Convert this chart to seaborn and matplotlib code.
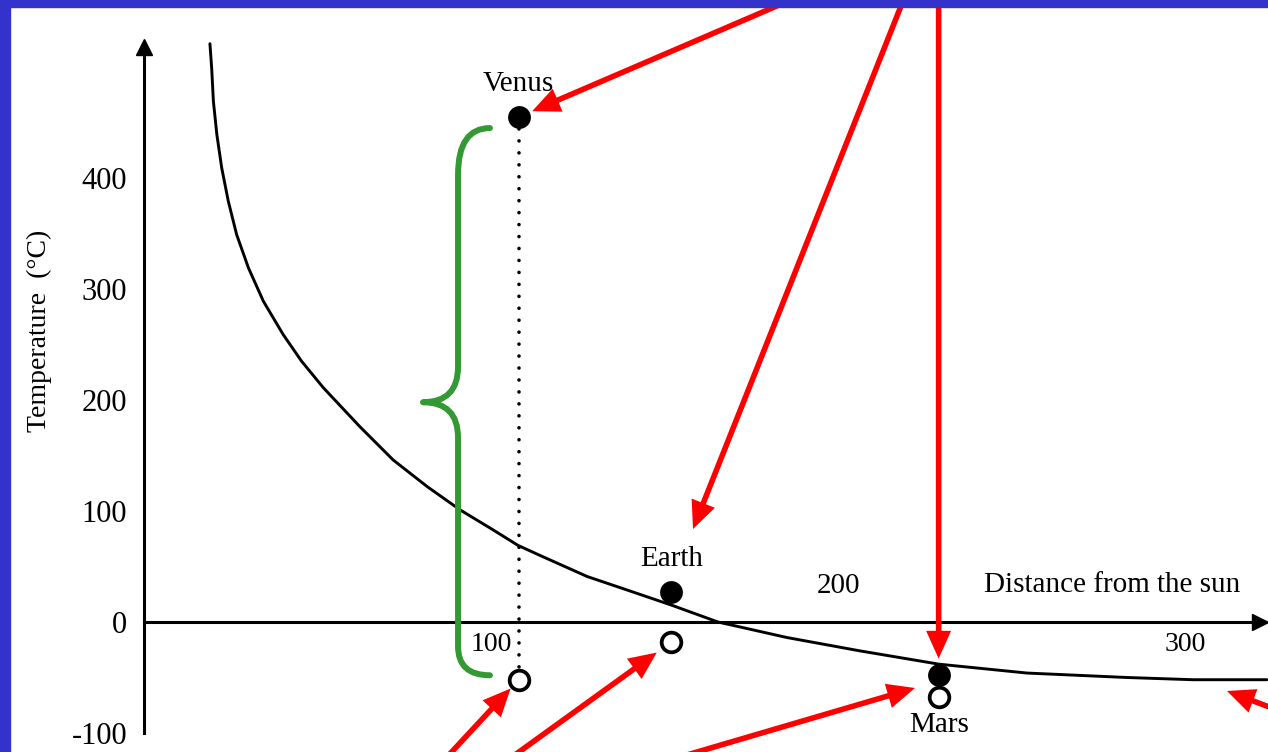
import numpy as np
import pandas as pd
import seaborn as sns
import matplotlib.pyplot as plt
from matplotlib.path import Path
from matplotlib.patches import PathPatch, Rectangle

# values
planets = ["Venus", "Earth", "Mars"]
distance = [108, 152, 229]
temp_actual = [455, 27, -48]       # filled dots
temp_no_atmos = [-52, -18, -68]    # open dots

curve_dist = [19.0, 19.5, 20.0, 21.0, 22.4, 24.3, 26.7, 30.1, 34.4, 40.1,
              45.4, 51.7, 62.2, 71.8, 81.6, 91.1, 100.6, 107.8, 114.1,
              127.7, 140.0, 152.2, 165.4, 185.3, 206.3, 229.1, 254.5,
              283.3, 302.3, 323.6]
curve_temp = [521, 499, 469, 439, 409, 379, 349, 319, 289, 259,
              235, 211, 176, 146, 122, 101, 83, 69, 60,
              41, 28, 15, 0, -14, -26, -38, -46,
              -50, -52, -52]

x_ticks = [100, 200, 300]
y_ticks = [-100, 0, 100, 200, 300, 400]
y_tick_labels = ["-100", "0", "100", "200", "300", "400"]

df = pd.DataFrame({"planet": planets, "distance": distance,
                   "actual": temp_actual, "no_atmos": temp_no_atmos})
curve = pd.DataFrame({"distance": curve_dist, "temp": curve_temp})

sns.set_style("white")
plt.rcParams['font.family'] = ['Liberation Serif', 'DejaVu Serif']
plt.rcParams['text.color'] = 'black'

W, H = 1268, 752
fig = plt.figure(figsize=(W / 100, H / 100), dpi=100)
ax = fig.add_axes([144 / W, 0, (W - 144) / W, 1])
ax.set_xlim(0, (W - 144) / 3.47)
ax.set_ylim(-130 / 1.11, 622 / 1.11)

# axes drawn like the book: arrowed lines crossing at 0
for s in ["top", "right"]:
    ax.spines[s].set_visible(False)
ax.spines["left"].set_bounds(-100, 520)
ax.spines["bottom"].set_position(("data", 0))
ax.spines["bottom"].set_bounds(0, 320)
for s in ["left", "bottom"]:
    ax.spines[s].set_linewidth(2.2)
    ax.spines[s].set_color("black")
ax.plot([0], [518], marker="^", ms=11, color="black", clip_on=False)
ax.plot([321.6], [0], marker=">", ms=11, color="black", clip_on=False)

ax.set_xticks(x_ticks, [str(t) if t != 200 else "" for t in x_ticks])
ax.set_yticks(y_ticks, y_tick_labels)
ax.tick_params(direction="in", length=9, width=2.2, colors="black")
ax.tick_params(axis="x", pad=7, labelsize=20)
ax.tick_params(axis="y", pad=12, labelsize=22)
ax.annotate("200", xy=(200, 0), xytext=(0, 26), textcoords="offset points",
            ha="center", va="center", fontsize=21)
ax.text(316, 33, "Distance from the sun", ha="right", va="center", fontsize=21)
fig.text(39 / W, 1 - 331 / H, "Temperature  (°C)", rotation=90,
         ha="center", va="center", fontsize=20)

# model curve
sns.lineplot(data=curve, x="distance", y="temp", sort=False, estimator=None,
             color="black", lw=2.1, ax=ax)

# Venus dotted drop line
v = df.iloc[0]
ax.plot([v.distance, v.distance], [v.actual, v.no_atmos], color="black", lw=2.6,
        linestyle=(0, (0.01, 3.3)), dash_capstyle="round", zorder=2)

sns.scatterplot(data=df, x="distance", y="actual", color="black", s=270,
                edgecolor="black", linewidth=0, zorder=4, ax=ax)
sns.scatterplot(data=df, x="distance", y="no_atmos", color="white", s=200,
                edgecolor="black", linewidth=2.7, zorder=4, ax=ax)
ax.set_xlabel("")
ax.set_ylabel("")

# planet names: above the filled dot, Mars below its open dot
for _, r in df.iterrows():
    if r.planet == "Mars":
        base, dy = r.no_atmos, -20
    else:
        base, dy = r.actual, 24
    ax.annotate(r.planet, xy=(r.distance, base), xytext=(0, dy),
                textcoords="offset points", ha="center", va="center",
                fontsize=21)

# green brace beside Venus
xe, xs, xt = 99.7, 90.5, 80.4
top, tip, bot = 445, 198, -48
brace = Path([(xe, top), (xs, top), (xs, top - 42),
              (xs, tip + 32), (xs, tip), (xt, tip),
              (xs, tip), (xs, tip - 32),
              (xs, bot + 26), (xs, bot), (xe, bot)],
             [Path.MOVETO, Path.CURVE3, Path.CURVE3,
              Path.LINETO, Path.CURVE3, Path.CURVE3,
              Path.CURVE3, Path.CURVE3,
              Path.LINETO, Path.CURVE3, Path.CURVE3])
ax.add_patch(PathPatch(brace, facecolor="none", edgecolor="#339933", lw=4.3,
                       capstyle="round", joinstyle="round", zorder=3))

# red arrows overlaid on the slide (solid filled shapes)
red = dict(arrowstyle="simple,head_length=2.0,head_width=1.8,tail_width=0.4",
           fc="#FF0000", ec="none", lw=0, mutation_scale=10, shrinkA=0)
m = df.set_index("planet")
ax.annotate("", xy=(m.loc["Venus", "distance"], m.loc["Venus", "actual"]),
            xytext=(800, 756), textcoords="figure pixels",
            arrowprops=dict(red, shrinkB=10.5), annotation_clip=False)
ax.annotate("", xy=(693, 223), xycoords="figure pixels",
            xytext=(905, 756), textcoords="figure pixels",
            arrowprops=dict(red, shrinkB=0), annotation_clip=False)
ax.annotate("", xy=(m.loc["Mars", "distance"], m.loc["Mars", "actual"]),
            xytext=(m.loc["Mars", "distance"], 560), textcoords="data",
            arrowprops=dict(red, shrinkB=12), annotation_clip=False)
ax.annotate("", xy=(m.loc["Venus", "distance"], m.loc["Venus", "no_atmos"]),
            xytext=(447, -5), textcoords="figure pixels",
            arrowprops=dict(red, shrinkB=8.6), annotation_clip=False)
ax.annotate("", xy=(m.loc["Earth", "distance"], m.loc["Earth", "no_atmos"]),
            xytext=(512, -5), textcoords="figure pixels",
            arrowprops=dict(red, shrinkB=13), annotation_clip=False)
ax.annotate("", xy=(915, 64), xycoords="figure pixels",
            xytext=(680, -5), textcoords="figure pixels",
            arrowprops=dict(red, shrinkB=0), annotation_clip=False)
ax.annotate("", xy=(1227, 61), xycoords="figure pixels",
            xytext=(1285, 39), textcoords="figure pixels",
            arrowprops=dict(red, shrinkB=0), annotation_clip=False)

# blue slide frame (top and left edges)
fig.add_artist(Rectangle((0, 1 - 7 / H), 1, 7 / H, transform=fig.transFigure,
                         color="#3333CC", zorder=10))
fig.add_artist(Rectangle((0, 0), 10 / W, 1, transform=fig.transFigure,
                         color="#3333CC", zorder=10))

fig.savefig("out.png", dpi=100)
